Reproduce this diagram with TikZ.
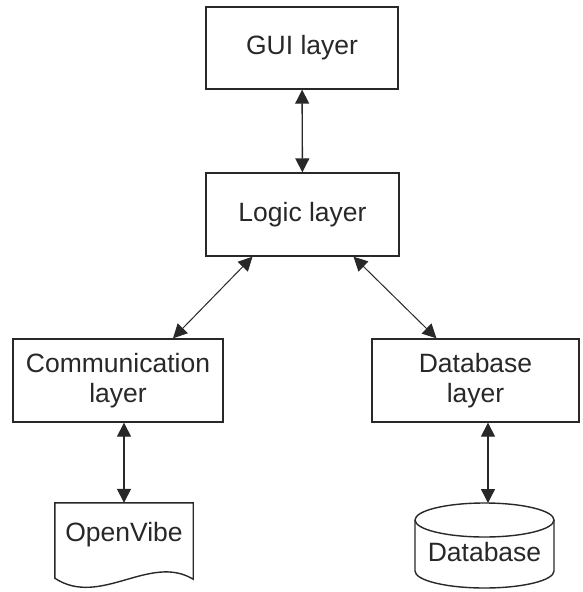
\documentclass[tikz,border=0pt]{standalone}
\usepackage{fontspec}
\setmainfont{Liberation Sans}
\usetikzlibrary{arrows.meta}
\definecolor{ink}{RGB}{40,40,40}
\begin{document}
\begin{tikzpicture}[x=1pt,y=-1pt,
  layerbox/.style={draw=ink, line width=1.4pt, text=ink, align=center,
    font=\fontsize{26.5}{30}\selectfont, inner sep=0pt},
  shapelabel/.style={text=ink, align=center, font=\fontsize{26.5}{30}\selectfont, inner sep=0pt},
  link/.style={draw=ink, line width=1.4pt, {Triangle[length=14pt,width=14pt]}-{Triangle[length=14pt,width=14pt]}},
  thinlink/.style={draw=ink, line width=1pt, {Triangle[length=14pt,width=14pt]}-{Triangle[length=14pt,width=14pt]}}
]
\useasboundingbox (0,0) rectangle (582,592);
\fill[white] (0,0) rectangle (582,592);

\node[layerbox, minimum width=192pt, minimum height=82pt] (gui) at (302,48) {GUI layer};
\node[layerbox, minimum width=193pt, minimum height=83pt] (logic) at (302.5,214.5) {Logic layer};
\node[layerbox, minimum width=210pt, minimum height=83pt] (comm) at (118,380.5) {Communication\\layer};
\node[layerbox, minimum width=207pt, minimum height=83pt] (dbl) at (475.5,380.5) {Database\\layer};

% document shape (OpenVibe)
\node[minimum width=138pt, minimum height=75pt, inner sep=0pt] (ov) at (124,540.5) {};
\draw[draw=ink, line width=1.4pt] (ov.south west) -- (ov.north west) -- (ov.north east) -- ([yshift=-1pt]ov.south east)
  .. controls (150,553) and (100,608) .. (ov.south west) -- cycle;
\node[shapelabel] (ovt) at (124,535) {OpenVibe};

% cylinder (Database)
\node[minimum width=139pt, minimum height=85pt, inner sep=0pt] (db) at (484.5,545.5) {};
\draw[draw=ink, line width=1.4pt] (484.5,520) ellipse [x radius=69.5, y radius=17];
\draw[draw=ink, line width=1.4pt] (415,520) -- (415,571) arc [start angle=180, end angle=0, x radius=69.5, y radius=17] -- (554,520);
\node[shapelabel] (dbt) at (484.5,552) {Database};

\draw[link] (gui) -- (logic);
\draw[thinlink] ([xshift=-50pt]logic.south) -- ([xshift=55pt]comm.north);
\draw[thinlink] ([xshift=51pt]logic.south) -- ([xshift=-39pt]dbl.north);
\draw[link] (comm.south -| ov.north) -- (ov.north);
\draw[link] (dbl.south -| 488,0) -- (488,503);
\end{tikzpicture}
\end{document}
